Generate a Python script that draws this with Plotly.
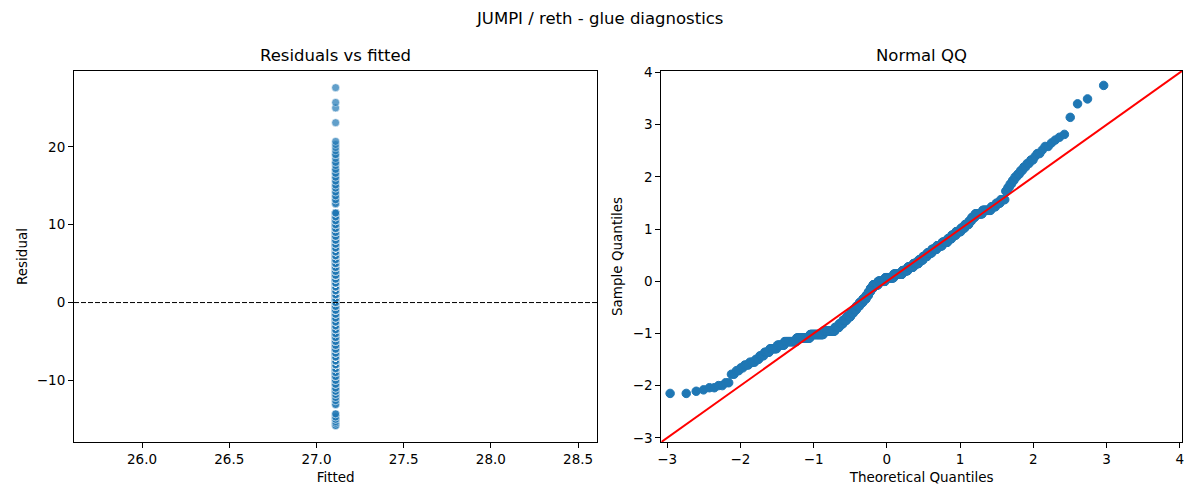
import numpy as np
import plotly.graph_objects as go
from plotly.subplots import make_subplots
from statistics import NormalDist

"""
Regression diagnostics for JUMPI / reth - glue:
residuals vs fitted on the left, normal QQ of the residuals on the right.
"""

fitted_value = 27.11

resid_levels = [
    -15.8, -15.5, -15.3, -15.0, -14.7, -14.3,
    -13.1, -12.6, -12.2, -11.8, -11.4, -11.0, -10.5, -10.0,
    -9.5, -9.0, -8.5, -8.0, -7.5, -7.0, -6.5, -6.0, -5.5, -5.0,
    -4.5, -4.0, -3.5, -3.0, -2.5, -2.0, -1.5, -1.0, -0.5, 0.0,
    0.5, 1.0, 1.5, 2.0, 2.5, 3.0, 3.5, 4.0, 4.5, 5.0, 5.5, 6.0,
    6.5, 7.0, 7.5, 8.0, 8.5, 9.0, 9.5, 10.0, 10.5, 11.0, 11.5,
    12.7, 13.2, 13.7, 14.2, 14.7, 15.1, 15.6, 16.1, 16.6, 17.1,
    17.6, 18.0, 18.5, 19.0, 19.5, 19.9, 20.3, 20.7,
    23.1, 25.0, 25.7, 27.6,
]
resid_counts = [
    2, 1, 1, 2, 2, 2,
    2, 2, 2, 3, 4, 3, 4, 5,
    8, 9, 18, 25, 30, 30, 12, 11, 11, 12,
    9, 10, 10, 11, 11, 8, 7, 9, 18, 25,
    30, 30, 19, 19, 17, 14, 13, 14, 14, 15, 14, 10,
    10, 11, 8, 8, 5, 6, 12, 12, 6, 5, 5,
    2, 2, 2, 2, 2, 2, 2, 2, 2, 2,
    1, 2, 1, 2, 1, 1, 1, 1,
    1, 1, 1, 1,
]

FONT = "DejaVu Sans"
C0 = "#1f77b4"


def main():
    resid = np.repeat(np.array(resid_levels), resid_counts)
    n = len(resid)
    fitted = np.full(n, fitted_value)

    # QQ: plotting positions i/(n+1), sample = studentized residuals
    pos = np.arange(1, n + 1) / (n + 1)
    theo = np.array([NormalDist().inv_cdf(p) for p in pos])
    sample = np.sort(resid / resid.std(ddof=1))

    fig = make_subplots(rows=1, cols=2)

    fig.add_trace(go.Scatter(
        x=fitted, y=resid, mode="markers",
        marker=dict(size=8, color=C0, opacity=0.7,
                    line=dict(color="white", width=0.6)),
        showlegend=False,
    ), row=1, col=1)
    fig.add_hline(y=0, line=dict(color="black", width=1, dash="5px,2px"),
                  row=1, col=1)

    # 45 degree line spans the shared axis limits
    lo, hi = -3.08, 4.03
    fig.add_trace(go.Scatter(
        x=theo, y=sample, mode="markers",
        marker=dict(size=8.5, color=C0, line=dict(color=C0, width=1)),
        showlegend=False,
    ), row=1, col=2)
    fig.add_trace(go.Scatter(
        x=[lo, hi], y=[lo, hi], mode="lines",
        line=dict(color="#ff0000", width=2),
        showlegend=False,
    ), row=1, col=2)

    axis = dict(showline=True, linecolor="black", linewidth=1.1, mirror=True,
                ticks="outside", ticklen=5, tickwidth=1.1, tickcolor="black",
                showgrid=False, zeroline=False,
                tickfont=dict(family=FONT, size=13.5, color="black"),
                title_font=dict(family=FONT, size=13.5, color="black"))

    fig.update_xaxes(**axis)
    fig.update_yaxes(**axis)
    fig.update_xaxes(domain=[0, 0.4723], range=[25.61, 28.61], dtick=0.5,
                     tickformat=".1f", title_text="Fitted", title_standoff=6,
                     row=1, col=1)
    fig.update_yaxes(range=[-17.91, 29.74], dtick=10,
                     title_text="Residual", title_standoff=6, row=1, col=1)
    fig.update_xaxes(domain=[0.5301, 1], range=[lo, hi], dtick=1,
                     title_text="Theoretical Quantiles", title_standoff=6,
                     row=1, col=2)
    fig.update_yaxes(range=[lo, hi], dtick=1,
                     title_text="Sample Quantiles", title_standoff=6,
                     row=1, col=2)

    for xd, text in [("x domain", "Residuals vs fitted"), ("x2 domain", "Normal QQ")]:
        fig.add_annotation(
            x=0.5, xref=xd, y=1, yref="paper", yanchor="bottom", yshift=4,
            text=text, showarrow=False,
            font=dict(family=FONT, size=16.5, color="black"),
        )

    # page puts the figure 8px in from the corner, margins allow for it
    fig.update_layout(
        width=1200, height=500,
        margin=dict(l=66, r=26, t=63, b=66),
        paper_bgcolor="white", plot_bgcolor="white",
        title=dict(text="JUMPI / reth - glue diagnostics", x=0.4935, xanchor="center",
                   y=1 - 10 / 500, yanchor="middle",
                   font=dict(family=FONT, size=16.5, color="black")),
        font=dict(family=FONT, color="black"),
    )
    fig.write_html("out.html")
    return fig


main()
